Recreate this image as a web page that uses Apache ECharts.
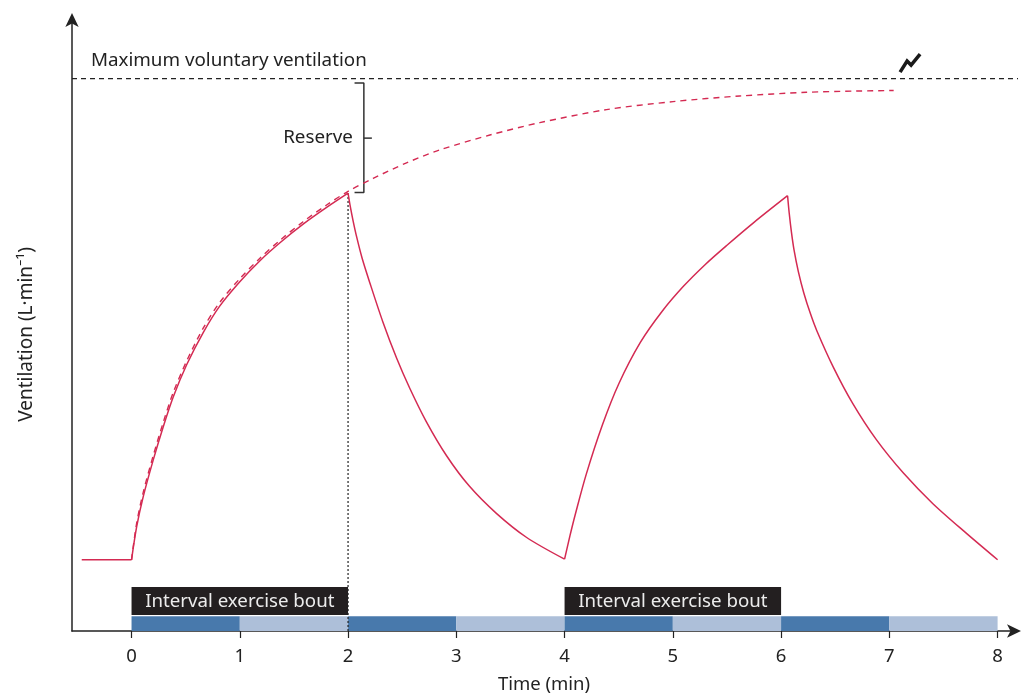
<!DOCTYPE html>
<html>
<head>
<meta charset="utf-8">
<script src="https://cdn.jsdelivr.net/npm/echarts@6/dist/echarts.min.js"></script>
<style>html,body{margin:0;padding:0;background:#fff;}#c{width:1027px;height:695px;}</style>
</head>
<body>
<div id="c"></div>
<script>
// ---- data (time in min, ventilation in arbitrary units) ----
const timeTicks = [0, 1, 2, 3, 4, 5, 6, 7, 8];
const restLine = [[-0.46, 11.5], [0, 11.5]];
const rise1 = [[0, 11.5], [0.047, 16.8], [0.108, 21.7], [0.2, 27.6], [0.293, 33.0], [0.385, 37.8], [0.509, 43.0], [0.662, 48.2], [0.816, 52.5], [1.0, 56.4], [1.186, 59.8], [1.371, 62.7], [1.585, 65.7], [1.802, 68.4], [2.0, 70.7]];
const decay1 = [[2.0, 70.7], [2.02, 68.6], [2.047, 66.2], [2.08, 63.6], [2.13, 60.2], [2.2, 56.3], [2.32, 50.0], [2.45, 44.0], [2.57, 39.2], [2.72, 33.9], [2.91, 28.3], [3.12, 23.4], [3.37, 19.0], [3.65, 15.1], [4.0, 11.6]];
const rise2 = [[4.0, 11.6], [4.05, 15.4], [4.1, 18.9], [4.2, 25.3], [4.35, 33.3], [4.5, 39.9], [4.7, 46.6], [4.9, 51.6], [5.1, 55.7], [5.3, 59.2], [5.5, 62.3], [5.75, 66.0], [6.06, 70.3]];
const decay2 = [[6.06, 70.3], [6.075, 67.5], [6.095, 64.5], [6.12, 61.5], [6.16, 58.0], [6.21, 54.6], [6.27, 51.3], [6.33, 48.5], [6.48, 42.7], [6.66, 36.8], [6.88, 30.9], [7.13, 25.5], [7.4, 20.6], [7.71, 15.8], [8.0, 11.5]];
const predicted = [[0, 11.5], [0.047, 17.4], [0.108, 22.4], [0.2, 28.3], [0.293, 33.7], [0.385, 38.5], [0.509, 43.6], [0.662, 48.9], [0.816, 53.1], [1.0, 56.9], [1.186, 60.2], [1.371, 63.1], [1.585, 66.1], [1.802, 68.8], [2.0, 71.0], [2.232, 73.1], [2.54, 75.6], [2.848, 77.7], [3.31, 80.1], [3.771, 82.1], [4.387, 84.2], [5.002, 85.5], [5.618, 86.4], [6.234, 87.0], [6.695, 87.2], [7.04, 87.3]];
const mvvValue = 89.2;
const stageBars = [[0, 1, 0], [1, 2, 1], [2, 3, 0], [3, 4, 1], [4, 5, 0], [5, 6, 1], [6, 7, 0], [7, 8, 1]];
const boutBoxes = [[0, 2, 'Interval exercise bout'], [4, 6, 'Interval exercise bout']];

const RED = '#d42a52';
const FONT = 'Noto Sans';
const xMin = -0.55, xMax = 8.17;

const chart = echarts.init(document.getElementById('c'), null, {renderer: 'canvas'});

function lineSeries(data, opts) {
  return Object.assign({
    type: 'line', data: data, symbol: 'none', smooth: 0.3, clip: false, silent: true,
    lineStyle: {color: RED, width: 1.5}, z: 5
  }, opts || {});
}

chart.setOption({
  animation: false,
  backgroundColor: '#fff',
  grid: {left: 72, right: 11, top: 18, bottom: 64, containLabel: false, outerBoundsMode: 'none'},
  xAxis: {
    type: 'value', min: xMin, max: xMax,
    name: 'Time (min)', nameLocation: 'middle', nameGap: 44,
    nameTextStyle: {fontFamily: FONT, fontSize: 18.5, color: '#222'},
    axisLine: {show: true, onZero: false, symbol: ['none', 'arrow'], symbolSize: [10, 14], symbolOffset: [0, 5], lineStyle: {color: '#222', width: 1.5}},
    axisTick: {show: true, customValues: timeTicks, length: 7, inside: false, lineStyle: {color: '#222', width: 1.2}},
    axisLabel: {show: true, customValues: timeTicks, fontFamily: FONT, fontSize: 18.5, color: '#222', margin: 16},
    splitLine: {show: false}
  },
  yAxis: {
    type: 'value', min: 0, max: 99,
    name: 'Ventilation (L·min⁻¹)', nameLocation: 'middle', nameGap: 36,
    nameTextStyle: {fontFamily: FONT, fontSize: 19, color: '#222', padding: [0, 0, 0, -20]},
    axisLine: {show: true, onZero: false, symbol: ['none', 'arrow'], symbolSize: [10, 14], symbolOffset: [0, 5], lineStyle: {color: '#222', width: 1.5}},
    axisTick: {show: false}, axisLabel: {show: false}, splitLine: {show: false}
  },
  series: [
    // timeline bars
    {
      type: 'custom', data: stageBars, z: 2, silent: true,
      renderItem: function (params, api) {
        const p0 = api.coord([api.value(0), 2.4]);
        const p1 = api.coord([api.value(1), 0]);
        return {type: 'rect', shape: {x: p0[0], y: p0[1], width: p1[0] - p0[0], height: p1[1] - p0[1]},
          style: {fill: api.value(2) === 0 ? '#4879ac' : '#adbfd9'}};
      }
    },
    // bout labels
    {
      type: 'custom', data: boutBoxes, z: 3, silent: true,
      dimensions: ['s', 'e', 'label'],
      encode: {x: [0, 1]},
      renderItem: function (params, api) {
        const p0 = api.coord([api.value(0), 7.1]);
        const p1 = api.coord([api.value(1), 2.6]);
        return {type: 'group', children: [
          {type: 'rect', shape: {x: p0[0], y: p0[1], width: p1[0] - p0[0], height: p1[1] - p0[1]}, style: {fill: '#231f20'}},
          {type: 'text', style: {x: (p0[0] + p1[0]) / 2, y: (p0[1] + p1[1]) / 2 + 1, text: boutBoxes[params.dataIndex][2],
            fill: '#ececec', font: '18.7px "' + FONT + '"', align: 'center', verticalAlign: 'middle'}}
        ]};
      }
    },
    // MVV dashed line
    lineSeries([[xMin, mvvValue], [8.22, mvvValue]], {smooth: false, lineStyle: {color: '#222', width: 1.2, type: [5, 4]}}),
    // vertical dotted line at end of first bout
    lineSeries([[2, 0], [2, 70.7]], {smooth: false, z: 4, lineStyle: {color: '#222', width: 1.2, type: [2, 2]}}),
    // reserve bracket
    lineSeries([[2.06, 88.5], [2.146, 88.5], [2.146, 70.8], [2.06, 70.8]], {smooth: false, lineStyle: {color: '#333', width: 1.5}}),
    lineSeries([[2.146, 79.6], [2.22, 79.6]], {smooth: false, lineStyle: {color: '#333', width: 1.5}}),
    // predicted continuous response
    lineSeries(predicted, {lineStyle: {color: RED, width: 1.4, type: [6, 5]}}),
    // actual interval response
    lineSeries(restLine, {smooth: false}),
    lineSeries(rise1),
    lineSeries(decay1),
    lineSeries(rise2),
    lineSeries(decay2),
    // annotations
    {
      type: 'custom', data: [[0]], z: 6, silent: true,
      renderItem: function (params, api) {
        const mvv = api.coord([-0.375, 92.1]);
        const res = api.coord([2.045, 79.6]);
        const bolt = api.coord([7.09, 90.1]);
        return {type: 'group', children: [
          {type: 'text', style: {x: mvv[0], y: mvv[1], text: 'Maximum voluntary ventilation', fill: '#222',
            font: '18.8px "' + FONT + '"', align: 'left', verticalAlign: 'middle'}},
          {type: 'text', style: {x: res[0], y: res[1], text: 'Reserve', fill: '#222',
            font: '18.8px "' + FONT + '"', align: 'right', verticalAlign: 'middle'}},
          {type: 'polyline', x: bolt[0], y: bolt[1], shape: {points: [[1, -1], [8, -12], [12, -8], [21, -19]]},
            style: {stroke: '#1a1a1a', lineWidth: 3.5, fill: null, lineJoin: 'miter', lineCap: 'butt'}}
        ]};
      }
    }
  ]
});
</script>
</body>
</html>
